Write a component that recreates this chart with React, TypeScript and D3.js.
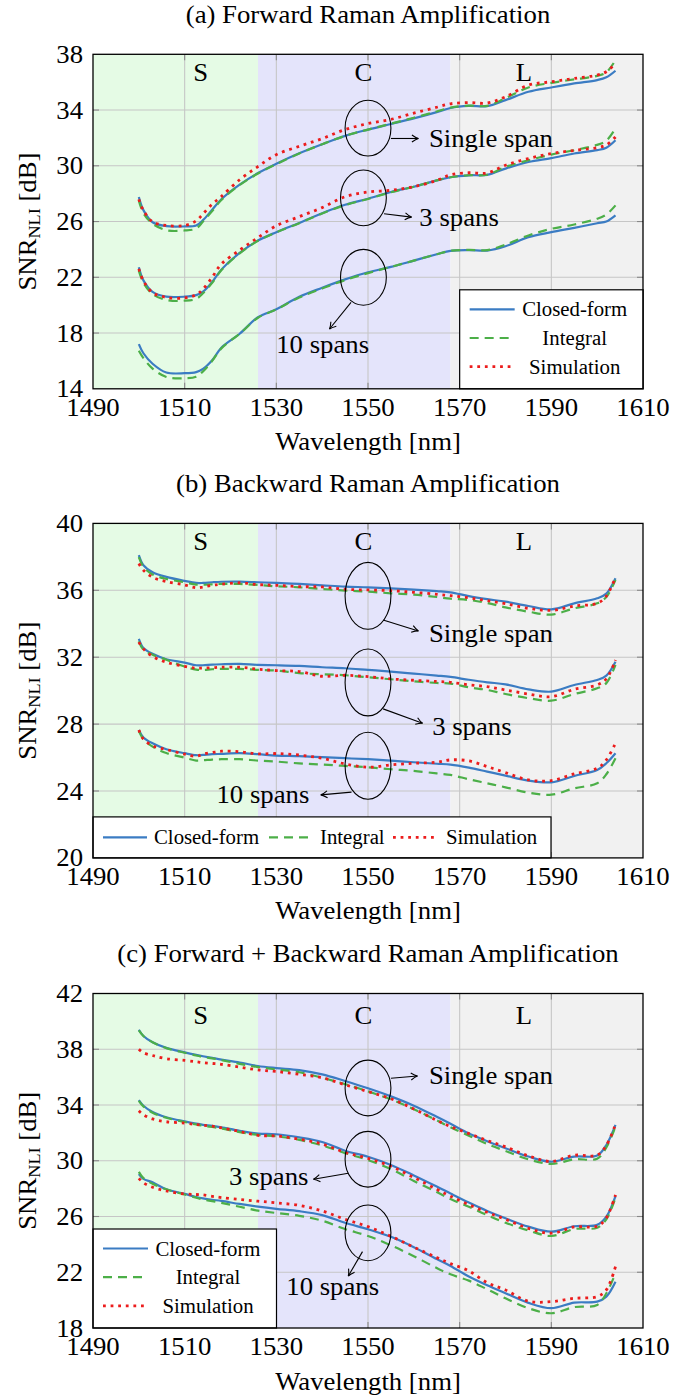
import * as d3 from "d3";

// wavelength grid (nm) shared by every series
const wavelengths = [1500, 1501, 1503, 1506, 1510, 1512.5, 1514, 1516, 1518, 1522, 1526, 1530, 1535, 1540, 1545, 1550, 1555, 1560, 1565, 1568, 1572, 1576, 1580, 1585, 1590, 1595, 1600, 1602, 1604];

const categories = ["Closed-form", "Integral", "Simulation"];
const spanLabels = ["Single span", "3 spans", "10 spans"];
const panelTitles = ["(a) Forward Raman Amplification", "(b) Backward Raman Amplification", "(c) Forward + Backward Raman Amplification"];
const bandNames = ["S", "C", "L"];
const bandEdges = [1490, 1526, 1568, 1610];
const bandLabelX = [1513.5, 1549, 1584];
const xTicks = [1490, 1510, 1530, 1550, 1570, 1590, 1610];
const yTicksFwd = [14, 18, 22, 26, 30, 34, 38];
const yTicksBwd = [20, 24, 28, 32, 36, 40];
const yTicksBoth = [18, 22, 26, 30, 34, 38, 42];

// (a) forward
const fwdClosedSingle = [27.76, 26.82, 25.95, 25.67, 25.65, 25.72, 26.1, 26.85, 27.6, 28.65, 29.48, 30.15, 30.9, 31.55, 32.15, 32.6, 33.0, 33.4, 33.85, 34.15, 34.3, 34.28, 34.71, 35.31, 35.62, 35.91, 36.15, 36.35, 36.82];
const fwdIntegralSingle = [27.52, 26.6, 25.85, 25.38, 25.36, 25.5, 26.0, 26.75, 27.55, 28.62, 29.45, 30.12, 30.88, 31.55, 32.15, 32.6, 33.02, 33.45, 33.9, 34.17, 34.32, 34.3, 34.85, 35.62, 35.95, 36.2, 36.45, 36.7, 37.59];
const fwdSimSingle = [27.59, 26.8, 25.98, 25.72, 25.72, 26.05, 26.55, 27.25, 27.8, 29.0, 29.95, 30.8, 31.4, 31.95, 32.6, 33.03, 33.33, 33.78, 34.2, 34.45, 34.54, 34.5, 34.95, 35.79, 36.03, 36.27, 36.51, 36.75, 37.35];
const fwdClosed3 = [22.72, 21.78, 20.95, 20.61, 20.61, 20.72, 20.97, 21.66, 22.55, 23.75, 24.64, 25.24, 25.9, 26.6, 27.2, 27.64, 28.12, 28.5, 28.95, 29.18, 29.32, 29.35, 29.8, 30.27, 30.55, 30.88, 31.12, 31.3, 31.83];
const fwdIntegral3 = [22.48, 21.6, 20.8, 20.37, 20.32, 20.45, 20.85, 21.6, 22.5, 23.72, 24.62, 25.22, 25.88, 26.58, 27.18, 27.62, 28.1, 28.5, 28.95, 29.18, 29.32, 29.36, 29.92, 30.4, 30.8, 31.12, 31.5, 31.8, 32.68];
const fwdSim3 = [22.6, 21.75, 20.9, 20.56, 20.52, 20.75, 21.15, 22.0, 22.95, 23.95, 24.85, 25.7, 26.35, 27.0, 27.78, 28.12, 28.24, 28.5, 28.95, 29.35, 29.5, 29.48, 30.04, 30.52, 30.88, 31.1, 31.3, 31.5, 32.07];
const fwdClosed10 = [17.21, 16.55, 15.8, 15.17, 15.12, 15.2, 15.43, 16.05, 16.95, 17.95, 19.13, 19.7, 20.6, 21.25, 21.85, 22.36, 22.75, 23.2, 23.65, 23.9, 23.95, 23.92, 24.23, 24.88, 25.24, 25.55, 25.88, 26.0, 26.44];
const fwdIntegral10 = [16.73, 16.2, 15.45, 14.85, 14.76, 14.87, 15.25, 16.0, 16.9, 17.95, 19.1, 19.7, 20.55, 21.2, 21.8, 22.3, 22.75, 23.2, 23.65, 23.9, 23.97, 23.95, 24.35, 25.0, 25.48, 25.79, 26.2, 26.5, 27.16];
const fwdSim10: number[] = []; // no simulation for 10 spans

// (b) backward
const bwdClosedSingle = [38.1, 37.5, 37.08, 36.8, 36.56, 36.44, 36.44, 36.48, 36.51, 36.52, 36.48, 36.44, 36.38, 36.3, 36.22, 36.18, 36.12, 36.04, 35.95, 35.88, 35.65, 35.47, 35.32, 35.06, 34.86, 35.22, 35.52, 35.8, 36.72];
const bwdIntegralSingle = [37.98, 37.4, 36.95, 36.68, 36.48, 36.34, 36.33, 36.36, 36.38, 36.38, 36.32, 36.24, 36.18, 36.08, 35.98, 35.92, 35.82, 35.74, 35.6, 35.5, 35.42, 35.24, 34.98, 34.72, 34.55, 34.92, 35.22, 35.6, 36.62];
const bwdSimSingle = [37.6, 37.2, 36.78, 36.52, 36.32, 36.15, 36.2, 36.3, 36.36, 36.45, 36.34, 36.3, 36.22, 36.2, 36.06, 36.02, 35.98, 35.88, 35.76, 35.68, 35.55, 35.38, 35.2, 34.92, 34.8, 35.06, 35.22, 35.65, 36.78];
const bwdClosed3 = [33.1, 32.55, 32.2, 31.88, 31.68, 31.52, 31.52, 31.56, 31.58, 31.6, 31.54, 31.52, 31.48, 31.4, 31.34, 31.24, 31.14, 31.02, 30.9, 30.82, 30.65, 30.5, 30.38, 30.08, 29.94, 30.34, 30.64, 30.9, 31.73];
const bwdIntegral3 = [32.95, 32.45, 32.15, 31.85, 31.44, 31.26, 31.24, 31.28, 31.3, 31.3, 31.24, 31.2, 31.05, 30.98, 30.92, 30.8, 30.68, 30.56, 30.46, 30.42, 30.2, 30.04, 29.8, 29.55, 29.4, 29.8, 30.14, 30.45, 31.54];
const bwdSim3 = [32.9, 32.5, 32.05, 31.7, 31.45, 31.34, 31.35, 31.37, 31.4, 31.4, 31.28, 31.2, 31.14, 30.86, 30.92, 30.84, 30.7, 30.62, 30.55, 30.5, 30.35, 30.24, 30.04, 29.8, 29.64, 30.08, 30.34, 30.7, 31.83];
const bwdClosed10 = [27.65, 27.2, 26.85, 26.5, 26.26, 26.14, 26.16, 26.2, 26.22, 26.26, 26.2, 26.12, 26.08, 26.02, 25.96, 25.9, 25.82, 25.72, 25.63, 25.58, 25.4, 25.16, 24.92, 24.62, 24.52, 24.9, 25.26, 25.66, 26.26];
const bwdIntegral10 = [27.58, 27.1, 26.65, 26.27, 25.99, 25.82, 25.84, 25.88, 25.9, 25.9, 25.82, 25.76, 25.65, 25.58, 25.5, 25.42, 25.3, 25.2, 25.05, 24.96, 24.7, 24.46, 24.22, 23.9, 23.78, 24.16, 24.46, 25.0, 25.96];
const bwdSim10 = [27.65, 27.1, 26.7, 26.48, 26.2, 26.08, 26.2, 26.3, 26.38, 26.35, 26.22, 26.24, 26.15, 25.95, 25.62, 25.42, 25.56, 25.66, 25.72, 25.86, 25.8, 25.46, 25.1, 24.66, 24.62, 25.02, 25.36, 25.86, 26.86];

// (c) forward + backward
const bothClosedSingle = [39.4, 38.95, 38.5, 38.1, 37.78, 37.6, 37.5, 37.38, 37.26, 37.05, 36.8, 36.65, 36.5, 36.2, 35.72, 35.2, 34.62, 33.95, 33.15, 32.65, 31.95, 31.4, 30.9, 30.3, 29.93, 30.3, 30.37, 31.13, 32.57];
const bothIntegralSingle = [39.35, 38.95, 38.5, 38.08, 37.75, 37.55, 37.45, 37.35, 37.22, 36.95, 36.72, 36.55, 36.35, 35.95, 35.5, 34.98, 34.4, 33.7, 32.9, 32.4, 31.8, 31.2, 30.7, 30.1, 29.77, 30.1, 30.15, 30.95, 32.45];
const bothSimSingle = [38.0, 37.75, 37.55, 37.32, 37.2, 37.1, 37.04, 36.98, 36.92, 36.72, 36.52, 36.4, 36.2, 35.95, 35.45, 34.96, 34.45, 33.72, 32.9, 32.45, 31.95, 31.45, 31.0, 30.35, 29.95, 30.4, 30.4, 31.1, 32.6];
const bothClosed3 = [34.35, 33.95, 33.5, 33.12, 32.82, 32.66, 32.58, 32.5, 32.4, 32.15, 31.95, 31.9, 31.68, 31.35, 30.72, 30.29, 29.7, 28.95, 28.15, 27.65, 27.0, 26.4, 25.87, 25.27, 24.91, 25.3, 25.4, 25.99, 27.47];
const bothIntegral3 = [34.3, 33.9, 33.45, 33.08, 32.78, 32.6, 32.52, 32.42, 32.32, 32.05, 31.85, 31.75, 31.5, 31.1, 30.55, 30.05, 29.4, 28.55, 27.75, 27.25, 26.7, 26.1, 25.55, 25.0, 24.6, 25.1, 25.2, 25.8, 27.35];
const bothSim3 = [33.59, 33.3, 33.0, 32.8, 32.7, 32.6, 32.55, 32.48, 32.36, 32.1, 31.82, 31.78, 31.55, 31.2, 30.6, 30.17, 29.6, 28.8, 27.95, 27.45, 26.85, 26.3, 25.8, 25.15, 24.8, 25.25, 25.3, 25.9, 27.55];
const bothClosed10 = [29.05, 28.7, 28.45, 27.95, 27.62, 27.4, 27.3, 27.2, 27.12, 26.9, 26.71, 26.55, 26.38, 26.1, 25.55, 25.08, 24.54, 23.8, 22.95, 22.45, 21.7, 21.07, 20.5, 19.8, 19.42, 19.82, 19.89, 20.25, 21.32];
const bothIntegral10 = [29.2, 28.75, 28.35, 27.95, 27.58, 27.35, 27.22, 27.1, 26.98, 26.7, 26.42, 26.25, 26.05, 25.7, 25.1, 24.6, 23.93, 23.15, 22.3, 21.85, 21.4, 20.78, 20.13, 19.42, 19.06, 19.5, 19.65, 20.49, 21.93];
const bothSim10 = [28.74, 28.42, 28.1, 27.83, 27.62, 27.58, 27.55, 27.45, 27.36, 27.22, 27.1, 26.98, 26.8, 26.4, 25.8, 25.27, 24.58, 23.8, 23.05, 22.62, 22.1, 21.25, 20.73, 19.92, 19.89, 20.13, 20.25, 20.73, 22.4];

// annotation ellipses [nm, dB] and arrows [x1, y1, x2, y2] / label [x, y, anchor]
const fwdEllipses = [[1550, 32.7], [1549, 27.7], [1549, 22.0]];
const fwdArrows = [[1555.0, 31.96, 1561.0, 31.96], [1553.5, 26.56, 1559.5, 26.32], [1546.3, 20.2, 1541.6, 18.29]];
const fwdNotes: [number, number, string][] = [[1563.3, 31.96, "start"], [1561.2, 26.32, "start"], [1540.1, 17.2, "middle"]];
const bwdEllipses = [[1550, 35.67], [1550, 30.49], [1550, 25.51]];
const bwdArrows = [[1553.3, 34.23, 1561.0, 33.57], [1553.3, 28.91, 1561.9, 28.05], [1546.4, 23.93, 1539.7, 23.77]];
const bwdNotes: [number, number, string][] = [[1563.3, 33.43, "start"], [1564.0, 27.85, "start"], [1537.2, 23.77, "end"]];
const bothEllipses = [[1550, 35.22], [1550, 30.11], [1550, 24.83]];
const bothArrows = [[1555.0, 35.92, 1560.8, 36.08], [1545.7, 29.1, 1538.1, 28.67], [1548.8, 23.48, 1545.7, 21.73]];
const bothNotes: [number, number, string][] = [[1563.3, 36.15, "start"], [1537.0, 28.86, "end"], [1542.3, 20.97, "middle"]];

const panels = [
  { title: panelTitles[0], yTicks: yTicksFwd, bandY: 36.1, legend: "right",
    series: [[fwdClosedSingle, fwdIntegralSingle, fwdSimSingle], [fwdClosed3, fwdIntegral3, fwdSim3], [fwdClosed10, fwdIntegral10, fwdSim10]],
    ellipses: fwdEllipses, arrows: fwdArrows, notes: fwdNotes },
  { title: panelTitles[1], yTicks: yTicksBwd, bandY: 38.4, legend: "row",
    series: [[bwdClosedSingle, bwdIntegralSingle, bwdSimSingle], [bwdClosed3, bwdIntegral3, bwdSim3], [bwdClosed10, bwdIntegral10, bwdSim10]],
    ellipses: bwdEllipses, arrows: bwdArrows, notes: bwdNotes },
  { title: panelTitles[2], yTicks: yTicksBoth, bandY: 39.8, legend: "left",
    series: [[bothClosedSingle, bothIntegralSingle, bothSimSingle], [bothClosed3, bothIntegral3, bothSim3], [bothClosed10, bothIntegral10, bothSim10]],
    ellipses: bothEllipses, arrows: bothArrows, notes: bothNotes },
];

// layout
const LEFT = 93, RIGHT = 643, PH = 334.5;
const TOPS = [54.3, 523.4, 993.5];
const FONT = "Liberation Serif, Tinos, Times New Roman, DejaVu Serif, serif";
const bandColors = ["#e5fbe5", "#e4e4fb", "#f1f1f1"];
const seriesStyle = [
  { stroke: "#3b7cc3", width: 2.2, dash: "" },
  { stroke: "#4caf48", width: 2.2, dash: "9 6" },
  { stroke: "#ec1c1c", width: 2.8, dash: "2.8 4.8" },
];

function Txt({ x, y, size = 25, sx = 1.07, anchor = "middle", rotate = false, children }: any) {
  const tr = `translate(${x},${y})${rotate ? " rotate(-90)" : ""} scale(${sx},1)`;
  return (
    <text transform={tr} textAnchor={anchor} style={{ fontFamily: FONT, fontSize: size }} fill="#000">
      {children}
    </text>
  );
}

function LegendSample({ i, x1, x2, y }: any) {
  const s = seriesStyle[i];
  return <line x1={x1} x2={x2} y1={y} y2={y} stroke={s.stroke} strokeWidth={s.width} strokeDasharray={s.dash || undefined} />;
}

function Panel({ cfg, top }: any) {
  const bottom = top + PH;
  const x = d3.scaleLinear().domain([1490, 1610]).range([LEFT, RIGHT]);
  const yDom = d3.extent(cfg.yTicks as number[]) as [number, number];
  const y = d3.scaleLinear().domain(yDom).range([bottom, top]);
  const line = d3
    .line<[number, number]>()
    .x((d) => x(d[0]))
    .y((d) => y(d[1]))
    .curve(d3.curveCatmullRom.alpha(0.5));

  const legendBoxW = 183.5, legendBoxH = 99;
  let legend: any = null;
  if (cfg.legend === "right" || cfg.legend === "left") {
    const bx = cfg.legend === "right" ? x(1570) : LEFT;
    const by = bottom - legendBoxH;
    legend = (
      <g>
        <rect x={bx} y={by} width={legendBoxW} height={legendBoxH} fill="#fff" stroke="#000" strokeWidth={1.2} />
        {categories.map((c, i) => (
          <g key={c}>
            <LegendSample i={i} x1={bx + 10} x2={bx + 55} y={by + 19.5 + i * 28.7} />
            <Txt x={bx + 115} y={by + 19.5 + i * 28.7 + 7} size={20} sx={1.04}>{c}</Txt>
          </g>
        ))}
      </g>
    );
  } else {
    const by = bottom - 41, cy = bottom - 20.5;
    const lines = [[103, 147], [269, 309], [393, 438]];
    const texts = [154, 320, 446];
    legend = (
      <g>
        <rect x={LEFT} y={by} width={458} height={41} fill="#fff" stroke="#000" strokeWidth={1.2} />
        {categories.map((c, i) => (
          <g key={c}>
            <LegendSample i={i} x1={lines[i][0]} x2={lines[i][1]} y={cy} />
            <Txt x={texts[i]} y={cy + 7} size={20} sx={1.04} anchor="start">{c}</Txt>
          </g>
        ))}
      </g>
    );
  }

  return (
    <g>
      {/* spectral bands */}
      {bandNames.map((b, i) => (
        <rect key={b} x={x(bandEdges[i])} y={top} width={x(bandEdges[i + 1]) - x(bandEdges[i])} height={PH} fill={bandColors[i]} />
      ))}
      {/* grid */}
      {xTicks.slice(1, -1).map((t) => (
        <line key={"gx" + t} x1={x(t)} x2={x(t)} y1={top} y2={bottom} stroke="#c6c6c6" strokeWidth={1.1} />
      ))}
      {cfg.yTicks.slice(1, -1).map((t: number) => (
        <line key={"gy" + t} x1={LEFT} x2={RIGHT} y1={y(t)} y2={y(t)} stroke="#c6c6c6" strokeWidth={1.1} />
      ))}
      {/* ticks inside on all sides */}
      {xTicks.slice(1, -1).map((t) => (
        <g key={"tx" + t} stroke="#888" strokeWidth={1.1}>
          <line x1={x(t)} x2={x(t)} y1={bottom} y2={bottom - 6} />
          <line x1={x(t)} x2={x(t)} y1={top} y2={top + 6} />
        </g>
      ))}
      {cfg.yTicks.slice(1, -1).map((t: number) => (
        <g key={"ty" + t} stroke="#888" strokeWidth={1.1}>
          <line x1={LEFT} x2={LEFT + 6} y1={y(t)} y2={y(t)} />
          <line x1={RIGHT} x2={RIGHT - 6} y1={y(t)} y2={y(t)} />
        </g>
      ))}
      {/* band labels */}
      {bandNames.map((b, i) => (
        <Txt key={"bl" + b} x={x(bandLabelX[i])} y={y(cfg.bandY)}>{b}</Txt>
      ))}
      {/* curves */}
      {cfg.series.map((group: number[][], gi: number) =>
        group.map((vals, si) => {
          if (!vals.length) return null;
          const pts = wavelengths.map((w, k) => [w, vals[k]] as [number, number]);
          const s = seriesStyle[si];
          return (
            <path key={gi + "-" + si} d={line(pts) || ""} fill="none" stroke={s.stroke} strokeWidth={s.width}
              strokeDasharray={s.dash || undefined} strokeLinejoin="round" />
          );
        })
      )}
      {/* annotations */}
      {cfg.ellipses.map((e: number[], i: number) => (
        <ellipse key={"el" + i} cx={x(e[0])} cy={y(e[1])} rx={x(e[0] + 5) - x(e[0])} ry={y(e[1] - 2) - y(e[1])}
          fill="none" stroke="#000" strokeWidth={1.1} />
      ))}
      {cfg.arrows.map((a: number[], i: number) => (
        <line key={"ar" + i} x1={x(a[0])} y1={y(a[1])} x2={x(a[2])} y2={y(a[3])} stroke="#000" strokeWidth={1.1} markerEnd="url(#tip)" />
      ))}
      {cfg.notes.map((n: [number, number, string], i: number) => (
        <Txt key={"nt" + i} x={x(n[0])} y={y(n[1]) + 8.5} anchor={n[2]}>{spanLabels[i]}</Txt>
      ))}
      {legend}
      {/* frame */}
      <rect x={LEFT} y={top} width={RIGHT - LEFT} height={PH} fill="none" stroke="#000" strokeWidth={1.3} />
      {/* axes labels */}
      {cfg.yTicks.map((t: number) => (
        <Txt key={"yl" + t} x={LEFT - 10} y={y(t) + 8.5} anchor="end">{t}</Txt>
      ))}
      {xTicks.map((t) => (
        <Txt key={"xl" + t} x={x(t)} y={bottom + 27}>{t}</Txt>
      ))}
      <Txt x={(LEFT + RIGHT) / 2} y={bottom + 61.5}>Wavelength [nm]</Txt>
      <Txt x={(LEFT + RIGHT) / 2} y={top - 31.5}>{cfg.title}</Txt>
      <Txt x={36} y={(top + bottom) / 2} rotate>
        SNR<tspan style={{ fontSize: 17 }} dy={4}>NLI</tspan><tspan dy={-4}> [dB]</tspan>
      </Txt>
    </g>
  );
}

export default function App() {
  return (
    <svg width={697} height={1399} style={{ position: "absolute", left: 0, top: 0, background: "#fff" }}>
      <defs>
        <marker id="tip" viewBox="-8 -5 9 10" refX={0} refY={0} markerWidth={9} markerHeight={10}
          orient="auto" markerUnits="userSpaceOnUse">
          <path d="M-6.5,-3.5 Q-2.5,-0.6 0,0 Q-2.5,0.6 -6.5,3.5" fill="none" stroke="#000" strokeWidth={1.1} />
        </marker>
      </defs>
      <rect x={0} y={0} width={697} height={1399} fill="#fff" />
      {panels.map((p, i) => (
        <Panel key={i} cfg={p} top={TOPS[i]} />
      ))}
    </svg>
  );
}
